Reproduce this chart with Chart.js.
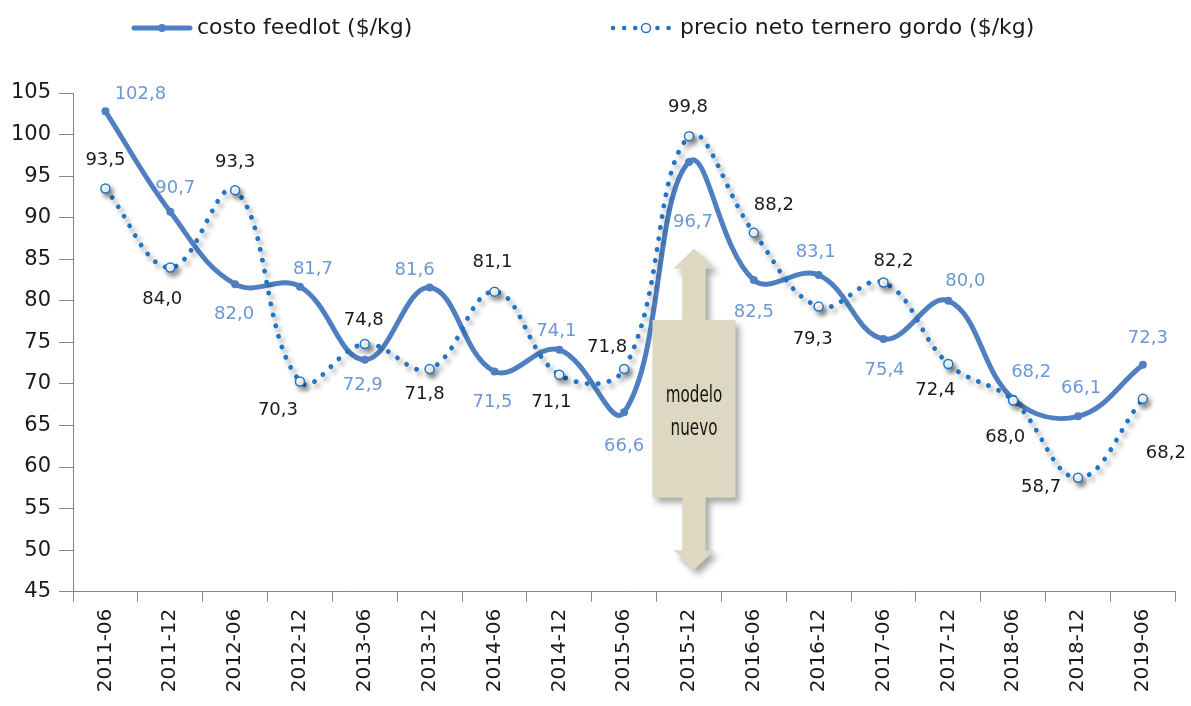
<!DOCTYPE html>
<html>
<head>
<meta charset="utf-8">
<script src="https://cdn.jsdelivr.net/npm/chart.js@4.4.1/dist/chart.umd.min.js"></script>
<style>
  html, body { margin: 0; padding: 0; background: #ffffff; }
  #wrap { width: 1191px; height: 706px; position: relative; }
</style>
</head>
<body>
<div id="wrap"><canvas id="chart" width="1191" height="706"></canvas></div>
<script>
// Semesters on the category axis
const periods = ['2011-06', '2011-12', '2012-06', '2012-12', '2013-06', '2013-12', '2014-06', '2014-12',
                 '2015-06', '2015-12', '2016-06', '2016-12', '2017-06', '2017-12', '2018-06', '2018-12', '2019-06'];

// Feedlot cost, $/kg
const costoFeedlot = [102.8, 90.7, 82.0, 81.7, 72.9, 81.6, 71.5, 74.1, 66.6, 96.7, 82.5, 83.1, 75.4, 80.0, 68.2, 66.1, 72.3];

// Net price of the finished calf, $/kg
const precioTernero = [93.5, 84.0, 93.3, 70.3, 74.8, 71.8, 81.1, 71.1, 71.8, 99.8, 88.2, 79.3, 82.2, 72.4, 68.0, 58.7, 68.2];

// Value axis range and step
const yMin = 45;
const yMax = 105;
const yStep = 5;

const seriesNames = ['costo feedlot ($/kg)', 'precio neto ternero gordo ($/kg)'];
const noteLines = ['modelo', 'nuevo'];

// Placement of each value label relative to its point (px)
const costoLabelOffsets = [[35,-17],[5,-24],[-1,30],[13,-17],[-2,26],[-15,-17],[-2,31],[-3,-19],[0,34],
                           [4,60],[0,32],[-3,-23],[1,31],[17,-19],[18,-27],[3,-28],[5,-26]];
const precioLabelOffsets = [[0,-28],[-8,32],[0,-28],[-22,29],[-1,-24],[-5,25],[-2,-29],[-8,28],[-17,-22],
                            [-1,-29],[20,-27],[-6,33],[10,-21],[-13,26],[-8,37],[-37,9],[23,54]];

const FONT = '"DejaVu Sans", "Noto Sans", sans-serif';
const SOLID = '#4F7FC0';
const DOTTED = '#1F76C6';
const TEXT = '#1a1a1a';
const LABEL_BLUE = '#6C98D6';
const AXIS = '#868686';

const fmt = v => v.toFixed(1).replace('.', ',');

// Soft drop shadow under the dotted series
const seriesShadow = {
  id: 'seriesShadow',
  beforeDatasetDraw(chart, args) {
    if (args.index !== 1) return;
    const ctx = chart.ctx;
    ctx.save();
    ctx.shadowColor = 'rgba(0,0,0,0.42)';
    ctx.shadowBlur = 5;
    ctx.shadowOffsetX = 3;
    ctx.shadowOffsetY = 4;
  },
  afterDatasetDraw(chart, args) {
    if (args.index !== 1) return;
    chart.ctx.restore();
  }
};

// Double arrow with the "modelo nuevo" box, anchored on the 2015-12 category
const modelNote = {
  id: 'modelNote',
  afterDatasetsDraw(chart) {
    const ctx = chart.ctx;
    const xs = chart.scales.x, ys = chart.scales.y;
    const cx = xs.getPixelForValue(9) + 5;
    const apexTop = ys.getPixelForValue(86.3);
    const headTop = ys.getPixelForValue(83.9);
    const boxTop = ys.getPixelForValue(77.7);
    const boxBot = ys.getPixelForValue(56.3);
    const headBot = ys.getPixelForValue(50.0);
    const apexBot = ys.getPixelForValue(47.6);
    const boxHalf = 41.5, shaftHalf = 11.7, headHalf = 20.5;

    ctx.save();
    ctx.beginPath();
    ctx.moveTo(cx, apexTop);
    ctx.lineTo(cx + headHalf, headTop);
    ctx.lineTo(cx + shaftHalf, headTop);
    ctx.lineTo(cx + shaftHalf, boxTop);
    ctx.lineTo(cx + boxHalf, boxTop);
    ctx.lineTo(cx + boxHalf, boxBot);
    ctx.lineTo(cx + shaftHalf, boxBot);
    ctx.lineTo(cx + shaftHalf, headBot);
    ctx.lineTo(cx + headHalf, headBot);
    ctx.lineTo(cx, apexBot);
    ctx.lineTo(cx - headHalf, headBot);
    ctx.lineTo(cx - shaftHalf, headBot);
    ctx.lineTo(cx - shaftHalf, boxBot);
    ctx.lineTo(cx - boxHalf, boxBot);
    ctx.lineTo(cx - boxHalf, boxTop);
    ctx.lineTo(cx - shaftHalf, boxTop);
    ctx.lineTo(cx - shaftHalf, headTop);
    ctx.lineTo(cx - headHalf, headTop);
    ctx.closePath();
    ctx.shadowColor = 'rgba(0,0,0,0.35)';
    ctx.shadowBlur = 6;
    ctx.shadowOffsetX = 4;
    ctx.shadowOffsetY = 5;
    ctx.fillStyle = '#DCD8C2';
    ctx.fill();
    ctx.restore();

    const midY = (boxTop + boxBot) / 2;
    ctx.save();
    ctx.fillStyle = '#17150f';
    ctx.textAlign = 'center';
    ctx.textBaseline = 'middle';
    ctx.font = '23px ' + FONT;
    noteLines.forEach((t, i) => {
      ctx.save();
      ctx.translate(cx, midY - 13 + i * 33);
      ctx.scale(0.66, 1);
      ctx.fillText(t, 0, 0);
      ctx.restore();
    });
    ctx.restore();
  }
};

// Value labels next to every point
const valueLabels = {
  id: 'valueLabels',
  afterDatasetsDraw(chart) {
    const ctx = chart.ctx;
    const offsets = [costoLabelOffsets, precioLabelOffsets];
    const colors = [LABEL_BLUE, TEXT];
    chart.data.datasets.forEach((ds, di) => {
      const meta = chart.getDatasetMeta(di);
      ctx.save();
      ctx.font = '18px ' + FONT;
      ctx.fillStyle = colors[di];
      ctx.textAlign = 'center';
      ctx.textBaseline = 'middle';
      meta.data.forEach((pt, i) => {
        const o = offsets[di][i];
        ctx.fillText(fmt(ds.data[i]), pt.x + o[0], pt.y + o[1]);
      });
      ctx.restore();
    });
  }
};

// Legend along the top: line samples with their markers
const topLegend = {
  id: 'topLegend',
  afterDraw(chart) {
    const ctx = chart.ctx;
    const ds = chart.data.datasets;
    const y = 28;
    ctx.save();
    // solid series sample
    ctx.strokeStyle = SOLID;
    ctx.lineWidth = 5;
    ctx.lineCap = 'round';
    ctx.beginPath(); ctx.moveTo(134, y); ctx.lineTo(190, y); ctx.stroke();
    ctx.fillStyle = SOLID;
    ctx.beginPath(); ctx.arc(162, y, 4, 0, Math.PI * 2); ctx.fill();
    // dotted series sample
    ctx.strokeStyle = DOTTED;
    ctx.lineWidth = 4.5;
    ctx.setLineDash([0.1, 11]);
    ctx.beginPath(); ctx.moveTo(613, y); ctx.lineTo(672, y); ctx.stroke();
    ctx.setLineDash([]);
    ctx.fillStyle = '#ffffff';
    ctx.lineWidth = 1.5;
    ctx.beginPath(); ctx.arc(646, y, 4.5, 0, Math.PI * 2); ctx.fill(); ctx.stroke();
    // texts
    ctx.fillStyle = TEXT;
    ctx.font = '22px ' + FONT;
    ctx.textAlign = 'left';
    ctx.textBaseline = 'middle';
    ctx.fillText(ds[0].label, 197, y);
    ctx.fillText(ds[1].label, 680, y);
    ctx.restore();
  }
};

new Chart(document.getElementById('chart'), {
  type: 'line',
  data: {
    labels: periods,
    datasets: [
      {
        label: seriesNames[0],
        data: costoFeedlot,
        borderColor: SOLID,
        backgroundColor: SOLID,
        borderWidth: 5,
        borderCapStyle: 'round',
        borderJoinStyle: 'round',
        tension: 0.4,
        fill: false,
        pointRadius: 4,
        pointBackgroundColor: SOLID,
        pointBorderWidth: 0,
        order: 1
      },
      {
        label: seriesNames[1],
        data: precioTernero,
        borderColor: DOTTED,
        backgroundColor: DOTTED,
        borderWidth: 4.8,
        borderDash: [0.1, 11],
        borderCapStyle: 'round',
        tension: 0.4,
        fill: false,
        pointRadius: 4.5,
        pointBackgroundColor: '#ffffff',
        pointBorderColor: DOTTED,
        pointBorderWidth: 1.5,
        order: 0
      }
    ]
  },
  options: {
    responsive: false,
    animation: false,
    devicePixelRatio: 1,
    layout: { padding: { top: 93, right: 15.7, bottom: 0, left: 0 } },
    plugins: {
      legend: { display: false },
      tooltip: { enabled: false },
      title: { display: false }
    },
    scales: {
      x: {
        type: 'category',
        offset: true,
        grid: {
          display: true,
          offset: true,
          drawOnChartArea: false,
          drawTicks: true,
          tickLength: 10,
          color: AXIS
        },
        border: { display: true, color: AXIS, width: 1 },
        ticks: {
          autoSkip: false,
          maxRotation: 90,
          minRotation: 90,
          padding: 7,
          color: TEXT,
          font: { family: FONT, size: 20 }
        },
        afterFit(scale) { scale.height = 114.3; }
      },
      y: {
        min: yMin,
        max: yMax,
        grid: {
          display: true,
          drawOnChartArea: false,
          drawTicks: true,
          tickLength: 14,
          color: AXIS
        },
        border: { display: true, color: AXIS, width: 1 },
        ticks: {
          stepSize: yStep,
          padding: 8,
          color: TEXT,
          font: { family: FONT, size: 21 }
        },
        afterFit(scale) { scale.width = 73; }
      }
    }
  },
  plugins: [seriesShadow, modelNote, valueLabels, topLegend]
});
</script>
</body>
</html>
